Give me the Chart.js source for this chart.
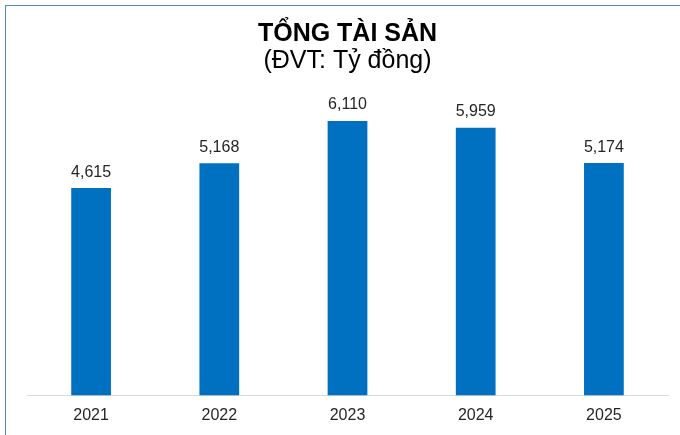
<!DOCTYPE html>
<html>
<head>
<meta charset="utf-8">
<script src="https://cdn.jsdelivr.net/npm/chart.js@4"></script>
<style>
  html, body { margin: 0; padding: 0; background: #fff; overflow: hidden; }
  #wrap { position: relative; width: 680px; height: 435px; }
  #frame { position: absolute; left: 5px; top: 5px; width: 800px; height: 600px; border: 1px solid #5585c2; box-sizing: border-box; pointer-events: none; }
  canvas { position: absolute; left: 0; top: 0; }
</style>
</head>
<body>
<div id="wrap">
  <canvas id="c" width="680" height="435"></canvas>
  <div id="frame"></div>
</div>
<script>
const titleText = "TỔNG TÀI SẢN";
const subtitleText = "(ĐVT: Tỷ đồng)";
const categories = ["2021", "2022", "2023", "2024", "2025"];
const totalAssets = [4615, 5168, 6110, 5959, 5174];
const yMax = 7000;

const fontFamily = "'Liberation Sans', Arial, sans-serif";

const valueLabels = {
  id: 'valueLabels',
  afterDatasetsDraw(chart) {
    const ctx = chart.ctx;
    const meta = chart.getDatasetMeta(0);
    ctx.save();
    ctx.font = "16px " + fontFamily;
    ctx.fillStyle = "#262626";
    ctx.textAlign = "center";
    ctx.textBaseline = "alphabetic";
    meta.data.forEach((bar, i) => {
      const v = chart.data.datasets[0].data[i];
      ctx.fillText(v.toLocaleString('en-US'), bar.x, bar.y - 11.5);
    });
    ctx.restore();
  }
};

new Chart(document.getElementById('c'), {
  type: 'bar',
  data: {
    labels: categories,
    datasets: [{
      data: totalAssets,
      backgroundColor: '#0070C0',
      borderWidth: 0,
      categoryPercentage: 1,
      barPercentage: 0.31
    }]
  },
  options: {
    responsive: false,
    animation: false,
    devicePixelRatio: 1,
    layout: { padding: { left: 27, right: 12, top: 0, bottom: 0 } },
    plugins: {
      legend: { display: false },
      tooltip: { enabled: false },
      title: {
        display: true,
        text: titleText,
        color: '#000',
        font: { family: fontFamily, size: 25, weight: 'bold', lineHeight: 1 },
        padding: { top: 21.8, bottom: 0 }
      },
      subtitle: {
        display: true,
        text: subtitleText,
        color: '#000',
        font: { family: fontFamily, size: 25, weight: 'normal', lineHeight: 1 },
        padding: { top: 2, bottom: 7.2 }
      }
    },
    scales: {
      x: {
        grid: { display: false, drawTicks: false },
        border: { display: true, color: '#d9d9d9', width: 1 },
        ticks: { color: '#262626', font: { family: fontFamily, size: 16, lineHeight: 1.1 }, padding: 11 }
      },
      y: {
        display: false,
        min: 0,
        max: yMax
      }
    }
  },
  plugins: [valueLabels]
});
</script>
</body>
</html>
